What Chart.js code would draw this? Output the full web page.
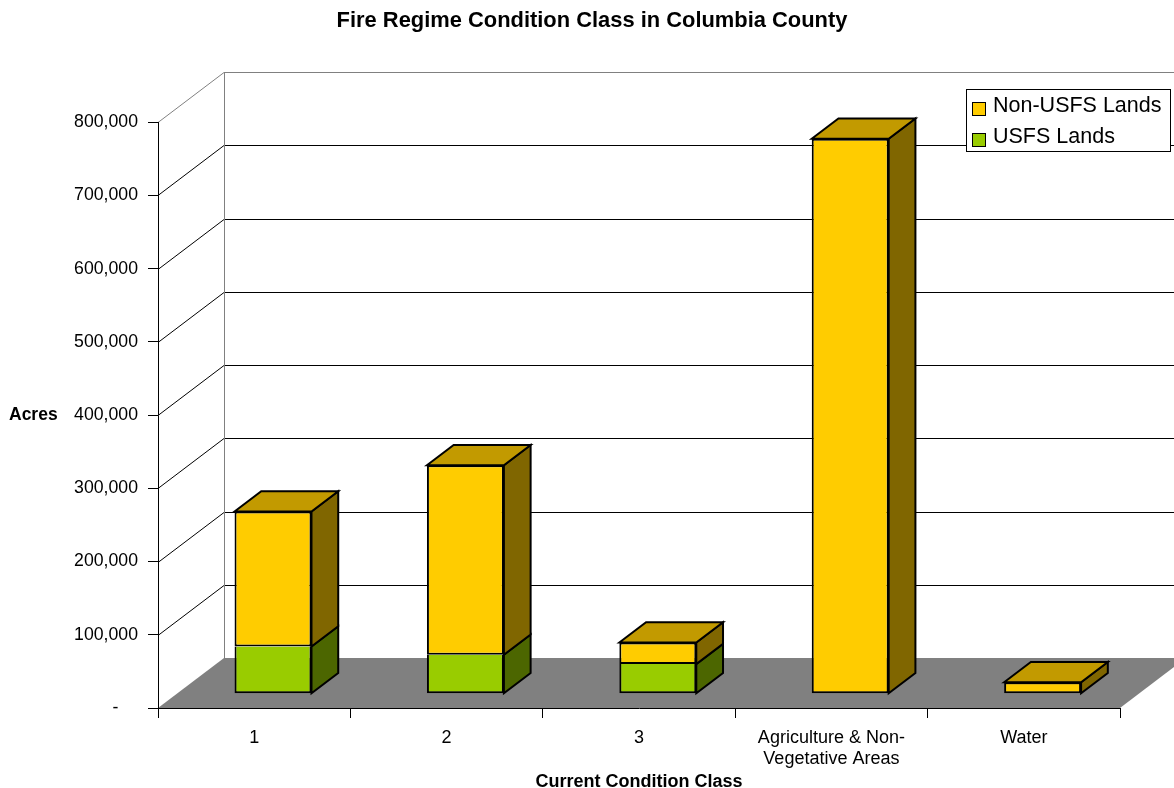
<!DOCTYPE html>
<html>
<head>
<meta charset="utf-8">
<title>Fire Regime Condition Class in Columbia County</title>
<script src="https://cdn.jsdelivr.net/npm/chart.js@4.4.1/dist/chart.umd.min.js"></script>
<style>
  html, body { margin: 0; padding: 0; background: #fff; }
  #wrap { position: relative; width: 1174px; height: 788px; }
</style>
</head>
<body>
<div id="wrap"><canvas id="fireChart" width="1174" height="788"></canvas></div>
<script>
// Acres per current condition class
const categories = ['1', '2', '3', ['Agriculture & Non-', 'Vegetative Areas'], 'Water'];
const usfsAcres = [64600, 53200, 40500, 0, 0];
const nonUsfsAcres = [184300, 259000, 29600, 758000, 15800];
const seriesNames = ['USFS Lands', 'Non-USFS Lands'];
const yMax = 800000;
const yStep = 100000;

// 3D look: depth of floor / walls and where the bars sit inside it
const depth = { dx: 66, dy: -50 };
const barFront = 0.285;
const barBack = 0.69;

const FONT = "'Liberation Sans', Arial, sans-serif";
Chart.defaults.font.family = FONT;
Chart.defaults.color = '#000';

function fillPoly(ctx, pts, color) {
    ctx.beginPath();
    ctx.moveTo(pts[0][0], pts[0][1]);
    for (let i = 1; i < pts.length; i++) ctx.lineTo(pts[i][0], pts[i][1]);
    ctx.closePath();
    ctx.fillStyle = color;
    ctx.fill();
    ctx.stroke();
}

const box3d = {
    id: 'box3d',
    beforeDraw(chart) {
        const { ctx, chartArea: a, scales: { y } } = chart;
        ctx.save();
        // grey floor
        ctx.fillStyle = '#808080';
        ctx.beginPath();
        ctx.moveTo(a.left, a.bottom);
        ctx.lineTo(a.right, a.bottom);
        ctx.lineTo(a.right + depth.dx, a.bottom + depth.dy);
        ctx.lineTo(a.left + depth.dx, a.bottom + depth.dy);
        ctx.closePath();
        ctx.fill();

        // side wall + back wall gridlines
        ctx.lineWidth = 1;
        y.ticks.forEach(t => {
            if (t.value === 0) return;
            const py = Math.round(y.getPixelForValue(t.value)) + 0.5;
            ctx.strokeStyle = t.value === y.max ? '#808080' : '#000';
            ctx.beginPath();
            ctx.moveTo(a.left, py);
            ctx.lineTo(a.left + depth.dx, py + depth.dy);
            ctx.lineTo(chart.width, py + depth.dy);
            ctx.stroke();
        });
        // back corner
        const cx = Math.round(a.left + depth.dx) + 0.5;
        ctx.strokeStyle = '#808080';
        ctx.beginPath();
        ctx.moveTo(cx, a.top + depth.dy);
        ctx.lineTo(cx, a.bottom + depth.dy);
        ctx.stroke();
        ctx.restore();
    },
    beforeDatasetsDraw(chart) {
        // front faces are pushed back into the depth of the floor
        chart.ctx.save();
        chart.ctx.translate(barFront * depth.dx, barFront * depth.dy);
    },
    afterDatasetsDraw(chart) {
        const ctx = chart.ctx;
        ctx.restore();
        const ox = barFront * depth.dx, oy = barFront * depth.dy;
        const sx = (barBack - barFront) * depth.dx, sy = (barBack - barFront) * depth.dy;
        const metas = chart.getSortedVisibleDatasetMetas();
        ctx.save();
        ctx.lineWidth = 2;
        ctx.strokeStyle = '#000';
        ctx.lineJoin = 'miter';
        for (let i = 0; i < chart.data.labels.length; i++) {
            let top = null;
            metas.forEach(meta => {
                const ds = chart.data.datasets[meta.index];
                const p = meta.data[i].getProps(['x', 'y', 'base', 'width'], true);
                if (Math.abs(p.base - p.y) < 0.5) return;
                const r = p.x + p.width / 2 + ox, t = p.y + oy, b = p.base + oy;
                fillPoly(ctx, [[r, t], [r + sx, t + sy], [r + sx, b + sy], [r, b]], ds.sideColor);
                top = { p, ds };
            });
            if (top) {
                const { p, ds } = top;
                const l = p.x - p.width / 2 + ox, r = p.x + p.width / 2 + ox, t = p.y + oy;
                fillPoly(ctx, [[l, t], [l + sx, t + sy], [r + sx, t + sy], [r, t]], ds.topColor);
            }
        }
        ctx.restore();
    },
    afterDraw(chart) {
        const { ctx, chartArea: a } = chart;
        ctx.save();
        // y axis title, horizontal
        ctx.font = 'bold 17.5px ' + FONT;
        ctx.fillStyle = '#000';
        ctx.textAlign = 'left';
        ctx.textBaseline = 'middle';
        ctx.fillText('Acres', 9, (a.top + a.bottom) / 2);

        // legend box
        ctx.fillStyle = '#fff';
        ctx.fillRect(966, 89, 204, 62);
        ctx.strokeStyle = '#000';
        ctx.lineWidth = 1;
        ctx.strokeRect(966.5, 89.5, 204, 62);
        const entries = chart.data.datasets.slice().reverse();
        ctx.font = '21.5px ' + FONT;
        ctx.textBaseline = 'alphabetic';
        entries.forEach((ds, k) => {
            const yy = 102 + k * 31;
            ctx.fillStyle = ds.backgroundColor;
            ctx.fillRect(972, yy, 13, 13);
            ctx.strokeRect(972.5, yy + 0.5, 13, 13);
            ctx.fillStyle = '#000';
            ctx.fillText(ds.label, 993, yy + 10);
        });
        ctx.restore();
    }
};

new Chart(document.getElementById('fireChart'), {
    type: 'bar',
    data: {
        labels: categories,
        datasets: [
            {
                label: seriesNames[0],
                data: usfsAcres,
                backgroundColor: '#99CC00',
                sideColor: '#4C6600',
                topColor: '#7AA300',
                borderColor: '#000',
                borderWidth: 2,
                borderSkipped: 'end'
            },
            {
                label: seriesNames[1],
                data: nonUsfsAcres,
                backgroundColor: '#FFCC00',
                sideColor: '#806600',
                topColor: '#C29A00',
                borderColor: '#000',
                borderWidth: 2,
                borderSkipped: false
            }
        ]
    },
    options: {
        responsive: false,
        animation: false,
        layout: { padding: { left: 64, right: 54, top: 0, bottom: 0 } },
        datasets: { bar: { barPercentage: 0.4, categoryPercentage: 1 } },
        scales: {
            x: {
                stacked: true,
                grid: { offset: true, drawOnChartArea: false, tickLength: 10, tickColor: '#000' },
                border: { color: '#000' },
                ticks: { font: { size: 18 }, maxRotation: 0, autoSkip: false, padding: 9 },
                title: {
                    display: true,
                    text: 'Current Condition Class',
                    font: { size: 18, weight: 'bold' },
                    padding: { top: 0, bottom: -5 }
                },
                afterFit(s) { s.height = 80; }
            },
            y: {
                stacked: true,
                min: 0,
                max: yMax,
                grid: { drawOnChartArea: false, tickLength: 10, tickColor: '#000' },
                border: { color: '#000' },
                ticks: {
                    stepSize: yStep,
                    padding: 10,
                    font: { size: 17.7 },
                    callback: v => v === 0 ? '-    ' : v.toLocaleString('en-US')
                },
                afterFit(s) { s.width = 94; }
            }
        },
        plugins: {
            legend: { display: false },
            tooltip: { enabled: false },
            title: {
                display: true,
                text: 'Fire Regime Condition Class in Columbia County',
                font: { size: 21.9, weight: 'bold' },
                color: '#000',
                padding: { top: 8, bottom: 88 }
            }
        }
    },
    plugins: [box3d]
});
</script>
</body>
</html>
